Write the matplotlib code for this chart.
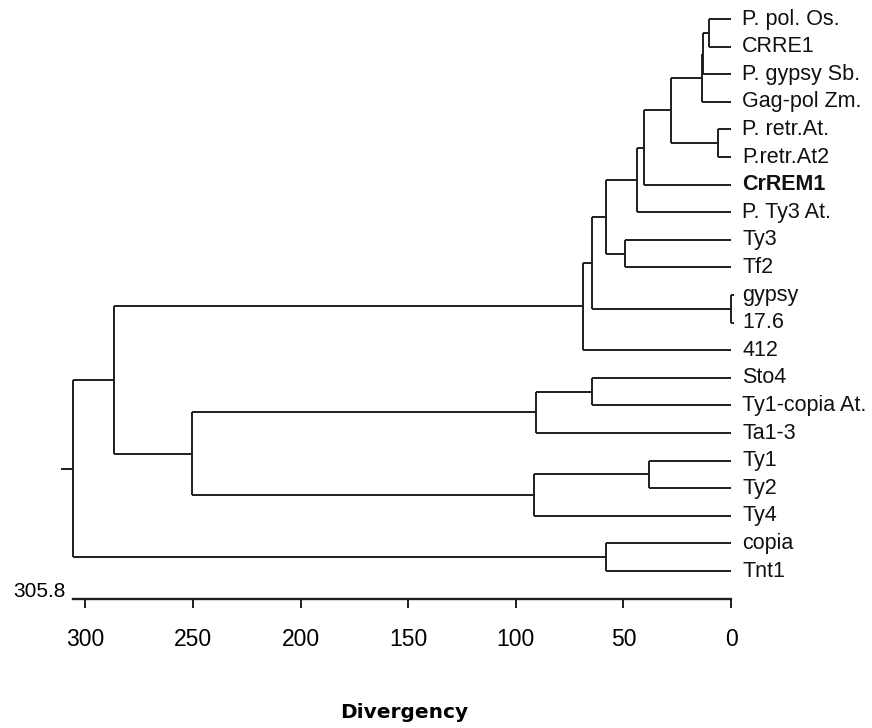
import matplotlib.pyplot as plt
import numpy as np

# leaf order top -> bottom
leaves = ['P. pol. Os.', 'CRRE1', 'P. gypsy Sb.', 'Gag-pol Zm.', 'P. retr.At.',
          'P.retr.At2', 'CrREM1', 'P. Ty3 At.', 'Ty3', 'Tf2', 'gypsy', '17.6',
          '412', 'Sto4', 'Ty1-copia At.', 'Ta1-3', 'Ty1', 'Ty2', 'Ty4', 'copia', 'Tnt1']

# merges (linkage style): index < 21 is a leaf, 21+k is the k-th merge
merge_a = [0, 21, 22, 4, 23, 25, 26, 8, 27, 10, 29, 31, 13, 33, 16, 35, 34, 32, 19, 38]
merge_b = [1, 2, 3, 5, 24, 6, 7, 9, 28, 11, 30, 12, 14, 15, 17, 18, 36, 37, 20, 39]
merge_h = [10.1, 13.0, 13.4, 5.9, 28.0, 40.4, 43.7, 49.3, 58.1, 0.0,
           64.6, 68.8, 64.5, 90.6, 38.1, 91.5, 250.6, 286.6, 58.3, 305.8]

ticks = [300, 250, 200, 150, 100, 50, 0]
bold_leaf = 'CrREM1'

n = len(leaves)
ypos = list(range(n))
hgt = [0.0] * n
for a, b, h in zip(merge_a, merge_b, merge_h):
    ypos.append((ypos[a] + ypos[b]) / 2)
    hgt.append(h)

fig = plt.figure(figsize=(8.72, 7.28), dpi=100)
ax = fig.add_axes([0, 0, 1, 1])
lc = '#1e1e1e'
lw = 1.4

for k, (a, b, h) in enumerate(zip(merge_a, merge_b, merge_h)):
    ax.plot([h, h], [ypos[a], ypos[b]], color=lc, lw=lw, solid_capstyle='butt')
    for c in (a, b):
        end = hgt[c]
        if c < n and h < 1:
            end = -1.5  # zero-length branch stub
        ax.plot([h, end], [ypos[c], ypos[c]], color=lc, lw=lw, solid_capstyle='butt')

root = len(ypos) - 1
ax.plot([hgt[root], hgt[root] + 5], [ypos[root], ypos[root]], color=lc, lw=lw)

for i, name in enumerate(leaves):
    ax.annotate(name, (0, i), xytext=(8, 0), textcoords='offset points',
                ha='left', va='center', fontsize=15.5, family='Liberation Sans',
                fontweight='bold' if name == bold_leaf else 'normal', color='#111111')

# axis scale
ax.set_xlim(731 / 2.152, (731 - 872) / 2.152)
ax.set_ylim((728 - 19) / 27.6, -19 / 27.6)
for s in ['top', 'left', 'right']:
    ax.spines[s].set_visible(False)
ax.spines['bottom'].set_position(('data', n))
ax.spines['bottom'].set_bounds(hgt[root], 0)
ax.spines['bottom'].set_linewidth(1.7)
ax.spines['bottom'].set_color(lc)
ax.set_xticks(ticks)
ax.set_xticklabels([str(t) for t in ticks], fontsize=16.5, family='Liberation Sans')
ax.tick_params(axis='x', direction='out', length=6.5, width=1.4, pad=15, color=lc)
ax.set_yticks([])
ax.patch.set_alpha(0)

ax.annotate(f'{hgt[root]:.1f}', (hgt[root], n), xytext=(-5, 5), textcoords='offset points',
            ha='right', va='center', fontsize=15, family='Liberation Sans')

ax.text(152, 25.14, 'Divergency', ha='center', va='center', fontsize=14.5,
        fontweight='bold', family='DejaVu Sans')

fig.savefig('out.png', dpi=100)
